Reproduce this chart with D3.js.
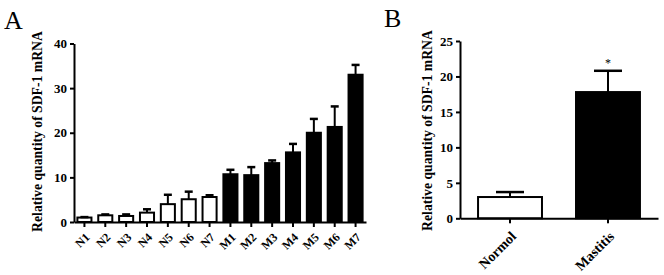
<!DOCTYPE html>
<html><head><meta charset="utf-8">
<script src="https://cdn.jsdelivr.net/npm/d3@7"></script>
<style>body{margin:0;background:#fff}svg{display:block}</style>
</head><body>
<svg id="c" width="664" height="275"></svg>
<script>
// Panel A data
const catsA = ["N1","N2","N3","N4","N5","N6","N7","M1","M2","M3","M4","M5","M6","M7"];
const meanA = [1.0,1.5,1.35,2.1,4.0,5.1,5.6,10.7,10.5,13.2,15.6,20.0,21.3,33.0];
const errA  = [0.1,0.2,0.35,0.75,2.1,1.7,0.4,1.0,1.8,0.6,1.9,3.1,4.6,2.2];
const ticksA = [0,10,20,30,40];
// Panel B data
const catsB = ["Normol","Mastitis"];
const meanB = [3.0,17.8];
const errB  = [0.7,3.0];
const ticksB = [0,5,10,15,20,25];
const yLabel = "Relative quantity of SDF-1 mRNA";

const svg = d3.select("#c");
const FONT = "'Liberation Serif','Times New Roman',serif";

function panel(o){
  const x = d3.scaleBand().domain(o.cats).range(o.xr).paddingInner(o.pi).paddingOuter(o.po);
  const y = d3.scaleLinear().domain(o.yd).range(o.yr);
  const g = svg.append("g");
  // bars
  g.selectAll("rect.bar").data(o.cats).join("rect")
    .attr("x", d=>x(d)+1).attr("width", x.bandwidth()-2)
    .attr("y", (d,i)=>y(o.mean[i])).attr("height",(d,i)=>y(0)-y(o.mean[i]))
    .attr("fill",(d,i)=>o.filled(d)?"#000":"#fff")
    .attr("stroke","#000").attr("stroke-width",2);
  // error bars
  g.selectAll("line.err").data(o.cats).join("line")
    .attr("x1",d=>x(d)+x.bandwidth()/2).attr("x2",d=>x(d)+x.bandwidth()/2)
    .attr("y1",(d,i)=>y(o.mean[i])).attr("y2",(d,i)=>y(o.mean[i]+o.err[i]))
    .attr("stroke","#000").attr("stroke-width",2);
  g.selectAll("line.cap").data(o.cats).join("line")
    .attr("x1",d=>x(d)+x.bandwidth()/2-o.cap/2).attr("x2",d=>x(d)+x.bandwidth()/2+o.cap/2)
    .attr("y1",(d,i)=>y(o.mean[i]+o.err[i])).attr("y2",(d,i)=>y(o.mean[i]+o.err[i]))
    .attr("stroke","#000").attr("stroke-width",2.5);
  // y axis
  const ya = g.append("g").attr("transform",`translate(${o.xr[0]},0)`)
    .call(d3.axisLeft(y).tickValues(o.ticks).tickSize(4).tickPadding(3).tickSizeOuter(0));
  ya.select(".domain").attr("stroke-width",2);
  ya.selectAll(".tick line").attr("stroke-width",2);
  ya.selectAll("text").attr("font-family",FONT).attr("font-weight","bold").attr("font-size",13).attr("fill","#000");
  // x axis
  const xa = g.append("g").attr("transform",`translate(0,${o.yr[0]})`)
    .call(d3.axisBottom(x).tickSize(5).tickSizeOuter(0));
  xa.select(".domain").attr("stroke-width",2);
  xa.selectAll(".tick line").attr("stroke-width",2);
  xa.selectAll("text").attr("font-family",FONT).attr("font-weight","bold").attr("font-size",o.xfs).attr("fill","#000")
    .attr("text-anchor","end").attr("dy",0).attr("y",0)
    .attr("transform",`translate(${o.xoff[0]},${o.xoff[1]}) rotate(-45)`);
  // y label
  g.append("text").attr("transform",`translate(${o.lx},${o.ly}) rotate(-90)`)
    .attr("text-anchor","middle").attr("font-family",FONT).attr("font-weight","bold")
    .attr("font-size",13.7).text(yLabel);
  // panel letter
  g.append("text").attr("x",o.letter[0]).attr("y",o.letter[1]).attr("font-family",FONT)
    .attr("font-size",26).text(o.L);
  return {x,y,g};
}

panel({cats:catsA, mean:meanA, err:errA, ticks:ticksA, xr:[74,366], yr:[222,43.5], yd:[0,40],
  pi:0.23, po:0.115, cap:8, filled:d=>d[0]==="M", xfs:12, xoff:[6,16], lx:42, ly:131.5, letter:[4,29], L:"A"});
const B = panel({cats:catsB, mean:meanB, err:errB, ticks:ticksB, xr:[460,658], yr:[218.3,41], yd:[0,25],
  pi:0.327, po:0.174, cap:28, filled:d=>d==="Mastitis", xfs:14, xoff:[7,19], lx:432, ly:130.5, letter:[384,27], L:"B"});
B.g.append("text").attr("x",B.x("Mastitis")+B.x.bandwidth()/2).attr("y",B.y(meanB[1]+errB[1])-4)
  .attr("text-anchor","middle").attr("font-family",FONT).attr("font-size",12).text("*");
</script>
</body></html>
